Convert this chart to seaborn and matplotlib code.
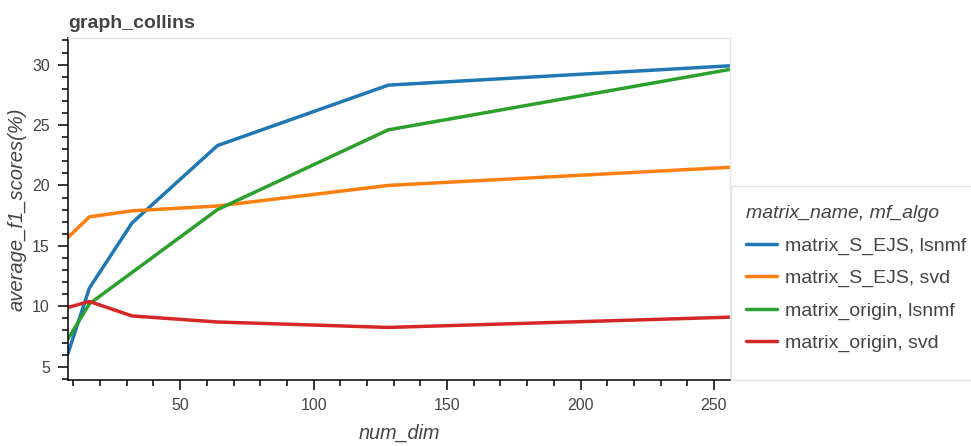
import numpy as np
import pandas as pd
import matplotlib
matplotlib.use("Agg")
import matplotlib.pyplot as plt
import seaborn as sns
from matplotlib.ticker import MultipleLocator
from matplotlib.patches import Rectangle

num_dim = [8, 16, 32, 64, 128, 256]

s_ejs_lsnmf = [6.1, 11.5, 16.9, 23.3, 28.3, 29.9]
s_ejs_svd = [15.7, 17.4, 17.9, 18.3, 20.0, 21.5]
origin_lsnmf = [7.3, 10.2, 12.8, 18.0, 24.6, 29.6]
origin_svd = [9.9, 10.4, 9.2, 8.7, 8.25, 9.1]

series_names = ["matrix_S_EJS, lsnmf", "matrix_S_EJS, svd",
                "matrix_origin, lsnmf", "matrix_origin, svd"]
series_values = [s_ejs_lsnmf, s_ejs_svd, origin_lsnmf, origin_svd]
colors = ["#1f77b4", "#ff7f0e", "#2ca02c", "#d62728"]

rows = []
for name, vals in zip(series_names, series_values):
    for d, v in zip(num_dim, vals):
        rows.append({"num_dim": d, "score": v, "series": name})
df = pd.DataFrame(rows)

sns.set_style("white")
plt.rcParams['font.family'] = ['Liberation Sans', 'DejaVu Sans']
text_col = "#444444"
W, H = 971, 446

fig = plt.figure(figsize=(9.71, 4.46), dpi=100)
ax = fig.add_axes([68 / W, 1 - 380 / H, (730 - 68) / W, (380 - 38) / H])

sns.lineplot(data=df, x="num_dim", y="score", hue="series",
             hue_order=series_names, palette=colors, linewidth=2.5,
             ax=ax, legend=True)

ax.set_xlim(8, 256)
ax.set_ylim(3.9, 32.2)
ax.xaxis.set_major_locator(MultipleLocator(50))
ax.xaxis.set_minor_locator(MultipleLocator(10))
ax.yaxis.set_major_locator(MultipleLocator(5))
ax.yaxis.set_minor_locator(MultipleLocator(1))

for side in ["top", "right"]:
    ax.spines[side].set_color("#e5e5e5")
    ax.spines[side].set_linewidth(1)
for side in ["left", "bottom"]:
    ax.spines[side].set_color("black")
    ax.spines[side].set_linewidth(1.1)

ax.tick_params(which="major", direction="out", length=7, width=1.1,
               labelsize=11.5, labelcolor=text_col, color="black", pad=6)
ax.tick_params(which="minor", direction="out", length=4.5, width=1.1, color="black")
ax.tick_params(axis="x", which="both", bottom=True, top=False)
ax.tick_params(axis="y", which="both", left=True, right=False)

ax.set_xlabel("num_dim", fontsize=14.3, style="italic", color=text_col, labelpad=8)
ax.set_ylabel("average_f1_scores(%)", fontsize=14.5, style="italic", color=text_col, labelpad=4)
ax.set_title("graph_collins", loc="left", fontsize=14, fontweight="bold",
             color=text_col, pad=7)

handles, labels = ax.get_legend_handles_labels()
ax.get_legend().remove()

# legend frame, stretched to the right edge like the reference
fig.patches.append(Rectangle((731 / W, 1 - 380 / H), (W + 5 - 731) / W, (380 - 186) / H,
                             transform=fig.transFigure, fill=True, facecolor="white",
                             edgecolor="#e5e5e5", linewidth=1, zorder=0))

leg = fig.legend(handles, labels, loc="upper left",
                 bbox_to_anchor=(746 / W, 1 - 205 / H),
                 title="matrix_name, mf_algo", fontsize=14,
                 title_fontproperties={"style": "italic", "size": 14},
                 frameon=False, handlelength=1.6, labelspacing=0.76,
                 borderpad=0, handletextpad=0.4, alignment="left",
                 borderaxespad=0)
leg.get_title().set_color(text_col)
for t in leg.get_texts():
    t.set_color(text_col)
for lh in leg.get_lines():
    lh.set_linewidth(2.5)

fig.savefig("out.png", dpi=100)
